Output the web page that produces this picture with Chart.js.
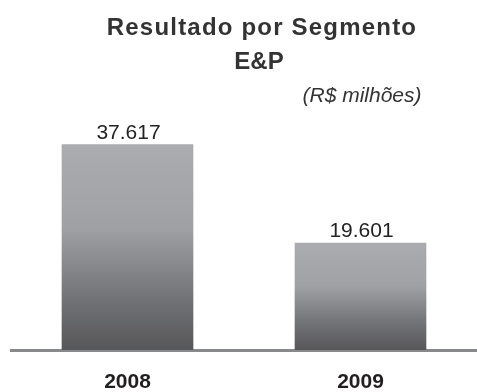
<!DOCTYPE html>
<html>
<head>
<meta charset="utf-8">
<script src="https://cdn.jsdelivr.net/npm/chart.js@4"></script>
<style>
  html, body { margin: 0; padding: 0; background: #fff; }
  #wrap { position: relative; width: 477px; height: 392px; }
</style>
</head>
<body>
<div id="wrap"><canvas id="chart" width="477" height="392"></canvas></div>
<script>
const FONT = '"Liberation Sans", Arial, Helvetica, sans-serif';

const years = ['2008', '2009'];
const resultado = [37617, 19601];
const titleLines = ['Resultado por Segmento', 'E&P'];
const unitNote = '(R$ milhões)';

// 37617 -> "37.617"
const fmt = v => String(v).replace(/\B(?=(\d{3})+(?!\d))/g, '.');

// each bar gets its own light-to-dark vertical fade
function barFill(c) {
  const { chart } = c;
  if (!chart.chartArea) return '#8a8b8e';
  const y = chart.scales.y;
  const top = y.getPixelForValue(c.raw), bottom = y.getPixelForValue(0);
  const g = chart.ctx.createLinearGradient(0, top, 0, bottom);
  g.addColorStop(0, '#abacaf');
  g.addColorStop(0.4, '#a0a1a4');
  g.addColorStop(0.75, '#727376');
  g.addColorStop(1, '#57575a');
  return g;
}

// title, unit note and the value over each bar
const labels = {
  id: 'labels',
  afterDatasetsDraw(chart) {
    const ctx = chart.ctx;
    ctx.save();
    ctx.fillStyle = '#333334';
    ctx.textAlign = 'center';
    ctx.textBaseline = 'alphabetic';
    ctx.font = `bold 24px ${FONT}`;
    ctx.letterSpacing = '1.2px';
    ctx.fillText(titleLines[0], 262, 35);
    ctx.letterSpacing = '0px';
    ctx.fillText(titleLines[1], 259, 69);

    ctx.font = `italic 21px ${FONT}`;
    ctx.fillText(unitNote, 362, 102);

    ctx.font = `21px ${FONT}`;
    ctx.fillStyle = '#232323';
    chart.getDatasetMeta(0).data.forEach((bar, i) => {
      ctx.fillText(fmt(resultado[i]), bar.x + 1, bar.y - 6);
    });
    ctx.restore();
  }
};

new Chart(document.getElementById('chart'), {
  type: 'bar',
  data: {
    labels: years,
    datasets: [{
      data: resultado,
      backgroundColor: barFill,
      borderWidth: 0,
      barThickness: 131,
    }]
  },
  options: {
    responsive: false,
    animation: false,
    layout: { padding: { top: 77, left: 11, right: 0, bottom: 0 } },
    plugins: { legend: { display: false }, tooltip: { enabled: false } },
    scales: {
      x: {
        grid: { display: false, drawTicks: false },
        border: { display: true, color: '#88898b', width: 3 },
        ticks: {
          padding: 22,
          color: '#231f20',
          font: { family: FONT, size: 21, weight: 'bold', lineHeight: 1 },
        },
        // keep the year row compact so the baseline sits low
        afterFit(scale) { scale.height = 42; },
      },
      y: { display: false, min: 0, max: 50000 },
    },
  },
  plugins: [labels],
});
</script>
</body>
</html>
